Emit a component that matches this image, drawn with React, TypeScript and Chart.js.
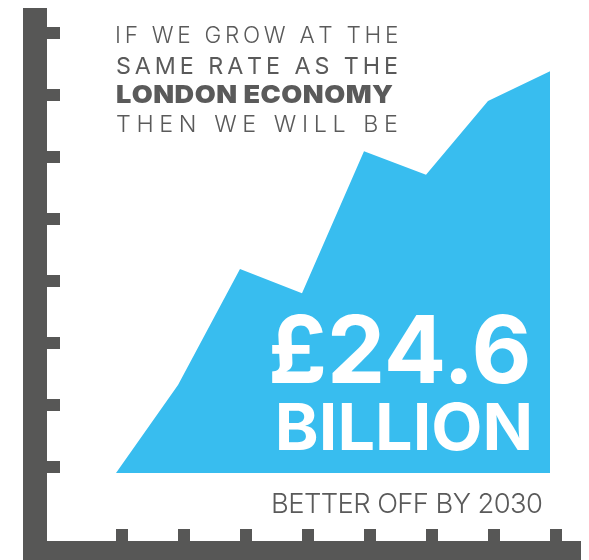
import React, { useEffect, useRef } from "react";
import { Chart, registerables } from "chart.js";

Chart.register(...registerables);

const categories = ["1", "2", "3", "4", "5", "6", "7", "8"];
const growthValues = [0, 1.42, 3.29, 2.9, 5.19, 4.81, 6.0, 6.48];
const axisTicks = [0, 1, 2, 3, 4, 5, 6, 7];
const headline = ["IF WE GROW AT THE", "SAME RATE AS THE", "LONDON ECONOMY", "THEN WE WILL BE"];
const bigValue = "£24.6";
const bigUnit = "BILLION";
const footer = "BETTER OFF BY 2030";

const BLUE = "#38bdef";
const GREY = "#575756";
const TEXT_GREY = "#5a5a5a";
const FONT = "Inter, Lato, sans-serif";

function spacedText(
  ctx: CanvasRenderingContext2D,
  text: string,
  left: number,
  right: number,
  baseline: number,
  capH: number,
  weight: number,
  color: string,
  stretch = 1
) {
  const size = capH / 0.73;
  ctx.save();
  ctx.font = `${weight} ${size}px ${FONT}`;
  ctx.fillStyle = color;
  ctx.textBaseline = "alphabetic";
  ctx.textAlign = "left";
  const chars = Array.from(text);
  const adv = chars.map((c) => ctx.measureText(c).width * stretch);
  const first = ctx.measureText(chars[0]);
  const last = ctx.measureText(chars[chars.length - 1]);
  let sumAdv = 0;
  for (let i = 0; i < chars.length - 1; i++) sumAdv += adv[i];
  const abl = first.actualBoundingBoxLeft * stretch;
  const abr = last.actualBoundingBoxRight * stretch;
  const ls = (right - left - sumAdv - abr - abl) / (chars.length - 1);
  let x = left + abl;
  for (let i = 0; i < chars.length; i++) {
    ctx.save();
    ctx.translate(x, baseline);
    ctx.scale(stretch, 1);
    ctx.fillText(chars[i], 0, 0);
    ctx.restore();
    x += adv[i] + ls;
  }
  ctx.restore();
}

function scaledText(
  ctx: CanvasRenderingContext2D,
  text: string,
  left: number,
  right: number,
  baseline: number,
  capH: number,
  weight: number,
  color: string
) {
  const size = capH / 0.73;
  ctx.save();
  ctx.font = `${weight} ${size}px ${FONT}`;
  ctx.fillStyle = color;
  ctx.textBaseline = "alphabetic";
  ctx.textAlign = "left";
  const m = ctx.measureText(text);
  const ink = m.actualBoundingBoxLeft + m.actualBoundingBoxRight;
  const sx = (right - left) / ink;
  ctx.translate(left, baseline);
  ctx.scale(sx, 1);
  ctx.fillText(text, m.actualBoundingBoxLeft, 0);
  ctx.restore();
}

const decorPlugin = {
  id: "decor",
  beforeDatasetsDraw(chart: any) {
    const ctx: CanvasRenderingContext2D = chart.ctx;
    const xs = chart.scales.x;
    const ys = chart.scales.y;
    ctx.save();
    ctx.fillStyle = GREY;
    ctx.fillRect(23, 8, 24, 552);
    ctx.fillRect(23, 541, 558, 19);
    axisTicks.forEach((v) => {
      const py = ys.getPixelForValue(v);
      ctx.fillRect(47, py - 12, 13, 12);
    });
    categories.forEach((_, i) => {
      const px = xs.getPixelForValue(i);
      ctx.fillRect(px, 529, 12, 12);
    });
    ctx.restore();
  },
  afterDatasetsDraw(chart: any) {
    const ctx: CanvasRenderingContext2D = chart.ctx;
    spacedText(ctx, headline[0], 117, 397, 43, 16.5, 300, TEXT_GREY);
    spacedText(ctx, headline[1], 117, 397, 74, 17, 400, TEXT_GREY);
    spacedText(ctx, headline[2], 117, 393, 103, 18, 900, TEXT_GREY, 1.1);
    spacedText(ctx, headline[3], 117, 397, 132, 17, 300, TEXT_GREY);
    scaledText(ctx, bigValue, 272, 528, 383, 68, 700, "#ffffff");
    scaledText(ctx, bigUnit, 279, 529, 450, 47, 700, "#ffffff");
    spacedText(ctx, footer, 273, 542, 513, 20, 300, TEXT_GREY);
  },
};

export default function App() {
  const ref = useRef<HTMLCanvasElement | null>(null);
  useEffect(() => {
    if (!ref.current) return;
    const chart = new Chart(ref.current, {
      type: "line",
      data: {
        labels: categories,
        datasets: [
          {
            data: growthValues,
            fill: "origin",
            backgroundColor: BLUE,
            borderWidth: 0,
            borderColor: BLUE,
            pointRadius: 0,
            tension: 0,
          },
        ],
      },
      options: {
        responsive: false,
        animation: false,
        devicePixelRatio: 1,
        layout: { padding: { left: 116, right: 39, top: 8, bottom: 87 } },
        plugins: { legend: { display: false }, tooltip: { enabled: false } },
        scales: {
          x: { display: false, offset: false },
          y: { display: false, min: 0, max: 7.5 },
        },
      },
      plugins: [decorPlugin],
    });
    return () => chart.destroy();
  }, []);
  return (
    <div style={{ position: "fixed", left: 0, top: 0, width: 589, height: 560, background: "#fff" }}>
      <canvas ref={ref} width={589} height={560} />
    </div>
  );
}
